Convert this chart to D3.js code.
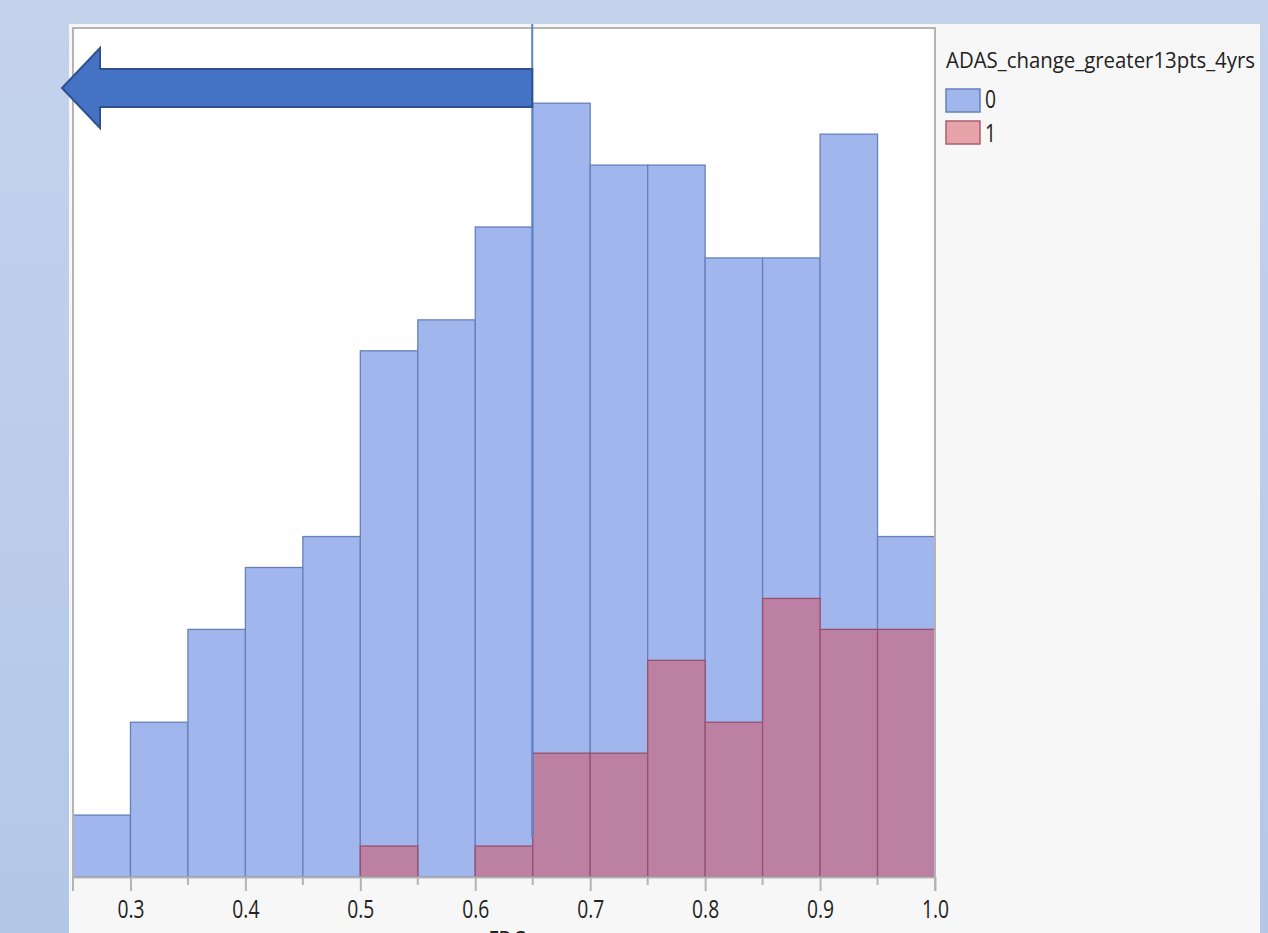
<!DOCTYPE html>
<html><head><meta charset="utf-8">
<script src="https://cdn.jsdelivr.net/npm/d3@7"></script>
<style>html,body{margin:0;padding:0;overflow:hidden;background:#c0d0ea}</style>
</head><body><svg id="c" width="1268" height="933"></svg>
<script>
const binStarts = [0.25,0.30,0.35,0.40,0.45,0.50,0.55,0.60,0.65,0.70,0.75,0.80,0.85,0.90,0.95];
const binWidth = 0.05;
const group0 = [2,5,8,10,11,17,18,21,25,23,23,20,20,24,11];
const group1 = [0,0,0,0,0,1,0,1,4,4,7,5,9,8,8];
const tickValues = [0.3,0.4,0.5,0.6,0.7,0.8,0.9,1.0];
const minorTicks = [0.35,0.45,0.55,0.65,0.75,0.85,0.95];
const legendTitle = "ADAS_change_greater13pts_4yrs";
const legendLabels = ["0","1"];
const cutoff = 0.65;
const xLabel = "FDG";

const FONT = "'Open Sans',sans-serif";
const SQ = 0.77; // horizontal squeeze of text seen in reference
function squeeze(sel){
  sel.each(function(){
    const n = this; const w = n.getComputedTextLength();
    d3.select(n).attr("textLength", w*SQ).attr("lengthAdjust","spacingAndGlyphs");
  });
}

const svg = d3.select("#c");
const defs = svg.append("defs");
const g = defs.append("linearGradient").attr("id","bg").attr("x1",0).attr("y1",0).attr("x2",0).attr("y2",1);
g.append("stop").attr("offset","0%").attr("stop-color","#c4d2ec");
g.append("stop").attr("offset","100%").attr("stop-color","#b3c7e8");
svg.append("rect").attr("width",1268).attr("height",933).attr("fill","url(#bg)");
// panel
svg.append("rect").attr("x",69).attr("y",24).attr("width",1191).attr("height",920).attr("fill","#f7f7f7");

const L=73, R=935, T=28, B=877;
const x = d3.scaleLinear().domain([0.25,1.0]).range([L,R]);
const y = d3.scaleLinear().domain([0,27.43]).range([B,T]);

svg.append("rect").attr("x",L).attr("y",T).attr("width",R-L).attr("height",B-T).attr("fill","#fff");

const bars0 = binStarts.map((s,i)=>({s,v:group0[i]}));
const bars1 = binStarts.map((s,i)=>({s,v:group1[i]})).filter(d=>d.v>0);

svg.append("g").selectAll("rect").data(bars0).join("rect")
  .attr("x",d=>x(d.s)).attr("y",d=>y(d.v))
  .attr("width",d=>x(d.s+binWidth)-x(d.s)).attr("height",d=>y(0)-y(d.v))
  .attr("fill","#a0b6ec").attr("stroke","#6680bb").attr("stroke-width",1.3);
svg.append("g").selectAll("rect").data(bars1).join("rect")
  .attr("x",d=>x(d.s)).attr("y",d=>y(d.v))
  .attr("width",d=>x(d.s+binWidth)-x(d.s)).attr("height",d=>y(0)-y(d.v))
  .attr("fill","#bc80a2").attr("stroke","#98506e").attr("stroke-width",1.3);

// frame
svg.append("path").attr("d",`M${L},${B}V${T}H${R}V${B}`).attr("fill","none").attr("stroke","#b4b4b4").attr("stroke-width",2);

// x axis
const ax = svg.append("g").attr("transform",`translate(0,${B})`)
  .call(d3.axisBottom(x).tickValues(tickValues).tickFormat(d3.format(".1f")).tickSize(14).tickSizeOuter(0));
ax.select(".domain").attr("stroke","#b4b4b4").attr("stroke-width",2).attr("d",`M${L},0.5V14M${L},0.5H${R}V14`);
ax.selectAll(".tick line").attr("stroke","#b4b4b4").attr("stroke-width",2);
ax.selectAll(".tick text").attr("fill","#222").attr("font-family",FONT).attr("font-size",25)
  .attr("y",41).attr("dy",null).call(squeeze);
svg.append("g").selectAll("line").data(minorTicks).join("line")
  .attr("x1",d=>x(d)).attr("x2",d=>x(d)).attr("y1",B).attr("y2",B+8)
  .attr("stroke","#b4b4b4").attr("stroke-width",2);
svg.append("text").attr("x",x(0.628)).attr("y",949).attr("text-anchor","middle")
  .attr("font-family",FONT).attr("font-size",25).attr("fill","#222").text(xLabel).call(squeeze);

// cutoff line
svg.append("line").attr("x1",x(cutoff)-0.5).attr("x2",x(cutoff)-0.5).attr("y1",24).attr("y2",838)
  .attr("stroke","#5b84c9").attr("stroke-width",2);

// arrow
const ax0 = x(cutoff)-0.5;
svg.append("path")
  .attr("d",`M${ax0},69 H100 V48 L62,88 L100,128 V107 H${ax0} Z`)
  .attr("fill","#4472c4").attr("stroke","#2f528f").attr("stroke-width",2).attr("stroke-linejoin","miter");

// legend
const lg = svg.append("g");
lg.append("text").attr("x",946).attr("y",68).attr("font-family",FONT).attr("font-size",22.5)
  .attr("fill","#222").attr("textLength",309).attr("lengthAdjust","spacingAndGlyphs").text(legendTitle);
const lcol = [["#a0b6ec","#6680bb"],["#e8a2aa","#a8606e"]];
legendLabels.forEach((lab,i)=>{
  lg.append("rect").attr("x",946).attr("y",89+i*32).attr("width",34).attr("height",23)
    .attr("fill",lcol[i][0]).attr("stroke",lcol[i][1]).attr("stroke-width",1.5);
  lg.append("text").attr("x",985).attr("y",108+i*34).attr("font-family",FONT).attr("font-size",25)
    .attr("fill","#222").text(lab).call(squeeze);
});
</script></body></html>
